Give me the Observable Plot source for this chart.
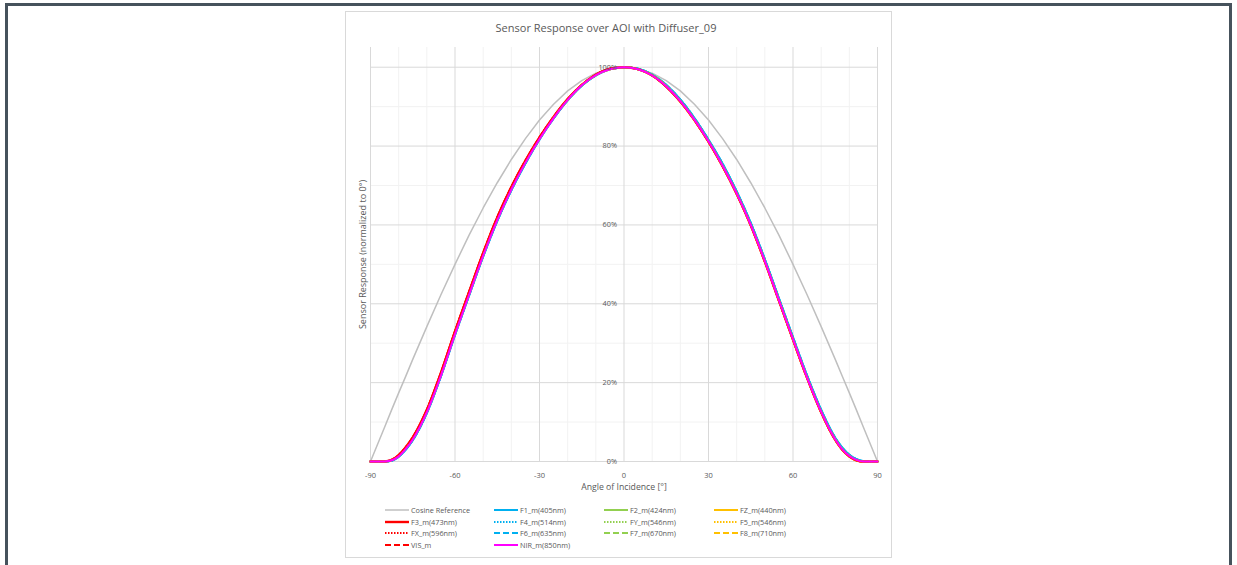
<!DOCTYPE html>
<html>
<head>
<meta charset="utf-8">
<script src="https://cdn.jsdelivr.net/npm/d3@7"></script>
<script src="https://cdn.jsdelivr.net/npm/@observablehq/plot@0.6"></script>
<style>
  html, body { margin: 0; padding: 0; background: #fff; }
  body { width: 1237px; height: 565px; position: relative; overflow: hidden; font-family: "Open Sans", sans-serif; }
  #frame { position: absolute; left: 5px; top: 3px; width: 1227px; height: 700px; border: 3px solid #46525c; box-sizing: border-box; }
  #panel { position: absolute; left: 345px; top: 11px; width: 547px; height: 547px; border: 1px solid #d9d9d9; box-sizing: border-box; background: #fff; }
  #title { position: absolute; left: 406px; width: 400px; top: 19px; text-align: center; font-size: 11px; color: #595959; line-height: 18px; white-space: nowrap; }
  #chart { position: absolute; left: 345px; top: 40px; }
  .leg { position: absolute; height: 12px; display: flex; align-items: center; font-size: 7.3px; color: #595959; white-space: nowrap; }
  .leg svg { margin-right: 2px; }
</style>
</head>
<body>
<div id="frame"></div>
<div id="panel"></div>
<div id="title">Sensor Response over AOI with Diffuser_09</div>
<div id="chart"></div>
<div id="legend"></div>
<script>
// ---------- data ----------
const angles = [-90,-85,-82.5,-80,-77.5,-75,-70,-65,-60,-55,-50,-45,-40,-35,-30,-25,-20,-15,-10,-5,0,5,10,15,20,25,30,35,40,45,50,55,60,65,70,75,77.5,80,82.5,85,90];

const cosineRef = [0,8.7,13.1,17.4,21.6,25.9,34.2,42.3,50.0,57.4,64.3,70.7,76.6,81.9,86.6,90.6,94.0,96.6,98.5,99.6,100,99.6,98.5,96.6,94.0,90.6,86.6,81.9,76.6,70.7,64.3,57.4,50.0,42.3,34.2,25.9,21.6,17.4,13.1,8.7,0];

const nirValues = [0,0,0.3,1.3,3.2,5.6,12.5,21.8,32.3,42.3,52.2,61.2,69.0,75.8,81.8,87.1,91.7,95.4,98.0,99.5,100,99.5,97.9,95.2,91.4,86.7,81.2,75.0,68.0,60.0,50.8,40.9,31.0,21.3,12.6,5.6,3.1,1.4,0.4,0,0];

const redValues = [0,0,0.4,1.6,3.6,6.1,13.1,22.5,33.0,43.0,52.9,61.9,69.6,76.3,82.2,87.4,91.9,95.5,98.1,99.6,100,99.5,97.9,95.1,91.3,86.6,81.1,74.9,67.9,59.9,50.7,40.8,30.9,21.2,12.5,5.5,3.0,1.3,0.3,0,0];

const orangeValues = [0,0,0.35,1.5,3.45,5.9,12.85,22.2,32.7,42.7,52.6,61.6,69.3,76.1,82.0,87.3,91.8,95.5,98.0,99.5,100,99.5,97.9,95.2,91.3,86.6,81.1,74.9,67.9,59.9,50.7,40.8,30.9,21.2,12.5,5.5,3.0,1.3,0.3,0,0];

const greenValues = [0,0,0.3,1.4,3.3,5.7,12.6,21.9,32.4,42.4,52.3,61.3,69.1,75.9,81.9,87.2,91.7,95.4,98.0,99.5,100,99.5,98.0,95.3,91.5,86.8,81.3,75.1,68.1,60.1,50.9,41.0,31.1,21.4,12.7,5.7,3.2,1.5,0.4,0,0];

const blueValues = [0,0,0.2,1.2,3.0,5.4,12.3,21.6,32.1,42.1,52.0,61.0,68.8,75.6,81.7,87.0,91.6,95.3,97.9,99.5,100,99.6,98.1,95.5,91.8,87.1,81.6,75.5,68.5,60.5,51.3,41.4,31.5,21.8,13.1,6.0,3.5,1.7,0.6,0.1,0];

const seriesNames = ["Cosine Reference","F1_m(405nm)","F2_m(424nm)","FZ_m(440nm)","F3_m(473nm)","F4_m(514nm)","FY_m(546nm)","F5_m(546nm)","FX_m(596nm)","F6_m(635nm)","F7_m(670nm)","F8_m(710nm)","VIS_m","NIR_m(850nm)"];
const seriesValues = [cosineRef, blueValues, greenValues, orangeValues, redValues, blueValues, greenValues, orangeValues, redValues, blueValues, greenValues, orangeValues, redValues, nirValues];

const xMajorTicks = [-90,-60,-30,0,30,60,90];
const xMinorTicks = [-80,-70,-50,-40,-20,-10,10,20,40,50,70,80];
const yMajorTicks = [0,20,40,60,80,100];
const yMinorTicks = [10,30,50,70,90];

// ---------- styles ----------
const DOT = "1.5,1.5", DASH = "6,3";
const styles = [
  {color:"#BFBFBF", width:1.5, dash:null, curve:"linear"},
  {color:"#00B0F0", width:2, dash:null},
  {color:"#92D050", width:2, dash:null},
  {color:"#FFC000", width:2, dash:null},
  {color:"#FF0000", width:2.4, dash:null},
  {color:"#00B0F0", width:2, dash:DOT},
  {color:"#92D050", width:2, dash:DOT},
  {color:"#FFC000", width:2, dash:DOT},
  {color:"#FF0000", width:2, dash:DOT},
  {color:"#00B0F0", width:2, dash:DASH},
  {color:"#92D050", width:2, dash:DASH},
  {color:"#FFC000", width:2, dash:DASH},
  {color:"#FF0000", width:2, dash:DASH},
  {color:"#FF00FF", width:2, dash:null}
];

const textColor = "#595959";

const lineMarks = seriesNames.map((name, i) => {
  const rows = angles.map((a, j) => ({angle: a, value: seriesValues[i][j], series: name}));
  const s = styles[i];
  const opts = {x: "angle", y: "value", stroke: s.color, strokeWidth: s.width, curve: s.curve || "monotone-x", strokeLinejoin: "round"};
  if (s.dash) opts.strokeDasharray = s.dash;
  return Plot.line(rows, opts);
});

const chart = Plot.plot({
  width: 546,
  height: 455,
  marginLeft: 25,
  marginRight: 14,
  marginTop: 7,
  marginBottom: 34,
  x: {domain: [-90, 90], axis: null},
  y: {domain: [0, 105], axis: null},
  style: {fontFamily: "'Open Sans', sans-serif", background: "transparent", overflow: "visible"},
  marks: [
    Plot.ruleX(xMinorTicks, {stroke: "#f2f2f2", strokeWidth: 1}),
    Plot.ruleY(yMinorTicks, {stroke: "#f2f2f2", strokeWidth: 1}),
    Plot.ruleY(yMajorTicks, {stroke: "#d9d9d9", strokeWidth: 1}),
    Plot.ruleX(xMajorTicks, {stroke: "#d9d9d9", strokeWidth: 1}),
    ...lineMarks,
    Plot.text(yMajorTicks, {x: 0, y: d => d, text: d => d + "%", textAnchor: "end", dx: -7, fontSize: 7.3, fill: textColor}),
    Plot.text(xMajorTicks, {x: d => d, y: 0, dy: 14, text: d => String(d), fontSize: 7.5, fill: textColor}),
    Plot.text(["Angle of Incidence [°]"], {x: 0, y: 0, dy: 25.5, text: d => d, fontSize: 8.7, fill: textColor}),
    Plot.text(["Sensor Response (normalized to 0°)"], {frameAnchor: "left", textAnchor: "middle", dx: -7, rotate: -90, text: d => d, fontSize: 9, fill: textColor})
  ]
});
document.getElementById("chart").appendChild(chart);

// ---------- legend ----------
const colX = [385, 494, 604, 714];
const rowY = [510, 521.7, 533.3, 545];
const legend = d3.select("#legend");
seriesNames.forEach((name, i) => {
  const s = styles[i];
  const col = i % 4, row = Math.floor(i / 4);
  const item = legend.append("div").attr("class", "leg")
    .style("left", colX[col] + "px")
    .style("top", (rowY[row] - 6) + "px");
  const svg = item.append("svg").attr("width", 24).attr("height", 6);
  const ln = svg.append("line").attr("x1", 0).attr("x2", 24).attr("y1", 3).attr("y2", 3)
    .attr("stroke", s.color).attr("stroke-width", s.width);
  if (s.dash) ln.attr("stroke-dasharray", s.dash);
  item.append("span").text(name);
});
</script>
</body>
</html>
